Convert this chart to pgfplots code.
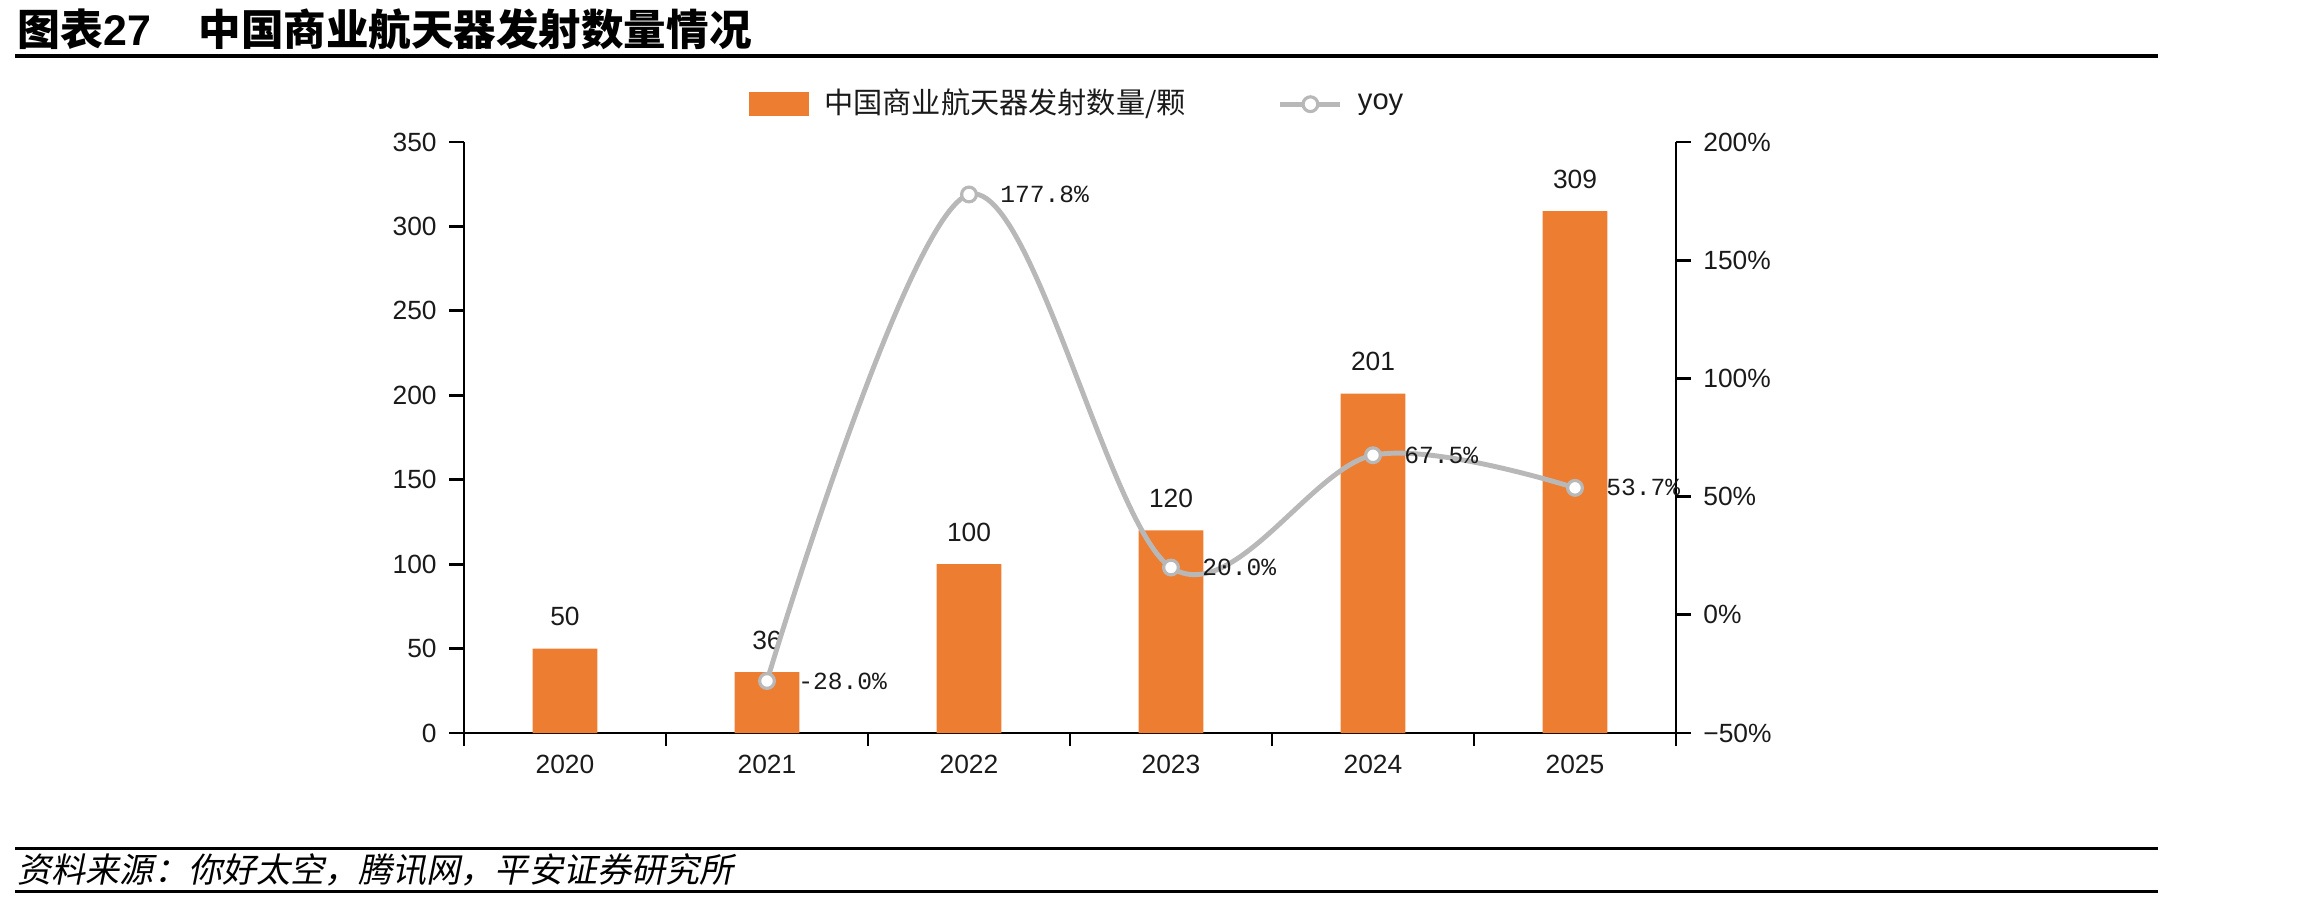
\documentclass[border=0pt]{standalone}
\usepackage{pgfplots}
\pgfplotsset{compat=1.18}
\usepackage{fontspec}
\setmainfont{Liberation Sans}
\newfontfamily\cjk{Noto Sans CJK SC}
\newfontfamily\cjksl[FakeSlant=0.2]{Noto Sans CJK SC}
\newfontfamily\monof{Liberation Mono}
\definecolor{barorange}{HTML}{ED7D31}
\definecolor{linegray}{HTML}{B8B8B8}
\definecolor{txt}{HTML}{1A1A1A}
\pgfplotsset{/pgf/number format/assume math mode=true}
\begin{document}
\begin{tikzpicture}
\useasboundingbox (0,0) rectangle (23.02,9.02);
% title and rules
\node[anchor=west, inner sep=0] at (0.17,8.73) {\fontsize{12.2}{14}\selectfont\cjk\bfseries 图表\fontspec{Liberation Sans}\bfseries 27};
\node[anchor=west, inner sep=0] at (1.98,8.73) {\fontsize{12.1}{14}\selectfont\cjk\bfseries 中国商业航天器发射数量情况};
\fill[black] (0.15,8.44) rectangle (21.58,8.48);
\fill[black] (0.15,0.525) rectangle (21.58,0.555);
\fill[black] (0.15,0.095) rectangle (21.58,0.125);
\node[anchor=west, inner sep=0] at (0.17,0.32) {\fontsize{9.7}{12}\selectfont\cjksl 资料来源：你好太空，腾讯网，平安证券研究所};

\begin{axis}[
  at={(4.64cm,1.69cm)}, anchor=south west,
  scale only axis, width=12.12cm, height=5.91cm,
  xmin=-0.5, xmax=5.5, ymin=0, ymax=350,
  enlargelimits=false,
  axis x line*=bottom, axis y line*=left,
  axis line style={line width=0.8pt, -},
  ytick={0,50,...,350},
  xtick={0,...,5}, xticklabels={2020,2021,2022,2023,2024,2025},
  major x tick style={draw=none},
  minor xtick={-0.5,0.5,1.5,2.5,3.5,4.5,5.5},
  tick align=outside,
  major tick length=0.15cm, minor tick length=0.13cm,
  every tick/.style={line width=0.8pt, black},
  tick label style={font=\fontsize{7.5}{9}\selectfont, text=txt},
  xticklabel style={yshift=0.05cm},
  ybar, bar width=0.646cm,
  nodes near coords,
  nodes near coords style={font=\fontsize{7.5}{9}\selectfont, text=txt, yshift=0.1cm},
]
\addplot[fill=barorange, draw=none] coordinates {(0,50) (1,36) (2,100) (3,120) (4,201) (5,309)};
\end{axis}

\begin{axis}[
  at={(4.64cm,1.69cm)}, anchor=south west,
  scale only axis, width=12.12cm, height=5.91cm,
  xmin=-0.5, xmax=5.5, ymin=-50, ymax=200,
  enlargelimits=false,
  hide x axis, axis y line*=right,
  axis line style={line width=0.8pt, -},
  ytick={-50,0,50,100,150,200},
  yticklabels={−50\%,0\%,50\%,100\%,150\%,200\%},
  tick align=outside,
  major tick length=0.15cm,
  every tick/.style={line width=0.8pt, black},
  tick label style={font=\fontsize{7.5}{9}\selectfont, text=txt},
  legend style={at={(0.508,1.064)}, anchor=center, draw=none, fill=none,
    legend columns=2, font=\fontsize{8.3}{10}\selectfont, text=txt,
    /tikz/every odd column/.append style={column sep=0.08cm},
    /tikz/every even column/.append style={column sep=0.85cm}},
]
\addlegendimage{legend image code/.code={\fill[barorange] (0cm,-0.11cm) rectangle (0.59cm,0.11cm);}}
\addlegendentry{\cjk 中国商业航天器发射数量/颗}
\addplot[linegray, line width=1.4pt, smooth, tension=0.55,
  mark=*, mark size=2.1pt, mark options={fill=white, draw=linegray, line width=0.9pt},
  point meta=explicit symbolic,
  nodes near coords,
  nodes near coords style={anchor=west, xshift=0.18cm, yshift=0cm, font=\fontsize{7}{8}\selectfont\monof, text=txt},
  legend image code/.code={\draw[linegray, line width=1.4pt] (0cm,0cm) -- (0.6cm,0cm); \draw[linegray, fill=white, line width=0.9pt] (0.3cm,0cm) circle (2.1pt);}
] coordinates {(1,-28.0) [-28.0\%] (2,177.8) [177.8\%] (3,20.0) [20.0\%] (4,67.5) [67.5\%] (5,53.7) [53.7\%]};
\addlegendentry{yoy}
\end{axis}
\end{tikzpicture}
\end{document}
